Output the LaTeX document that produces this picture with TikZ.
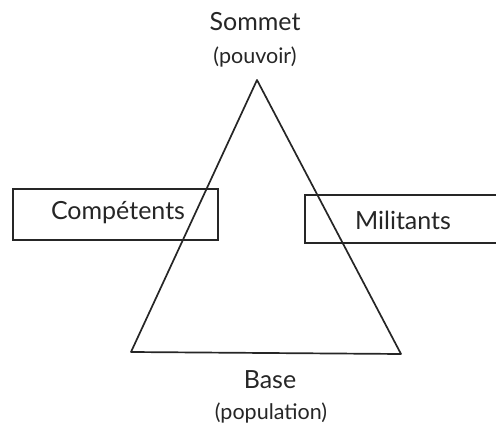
\documentclass[tikz,border=0pt]{standalone}
\usepackage{fontspec}
\setmainfont{Lato}
\begin{document}
\begin{tikzpicture}[x=1pt,y=-1pt,
  ln/.style={line width=1.7pt, draw=black!85},
  big/.style={font=\fontsize{25}{28}\selectfont, text=black!85, inner sep=0pt},
  small/.style={font=\fontsize{21.5}{24}\selectfont, text=black!85, inner sep=0pt},
  box/.style={ln, fill=white}]
\useasboundingbox (0,0) rectangle (496,425);
\clip (0,0) rectangle (496,425);
\coordinate (apex) at (257,80);
\coordinate (bl) at (131,352);
\coordinate (br) at (401,354);
\draw[box] (13,189) rectangle (218,240);
\draw[box] (305,195) rectangle (505,243);
\draw[ln, line join=round] (apex) -- (bl) -- (br) -- cycle;
\node[big] (somm) at (255,22) {Sommet};
\node[small] (pouv) at (255,57) {(pouvoir)};
\node[big] (comp) at (118,213) {Compétents};
\node[big] (mil) at (403,220) {Militants};
\node[big] (base) at (270,380) {Base};
\node[small] (pop) at (271,413) {(population)};
\end{tikzpicture}
\end{document}
